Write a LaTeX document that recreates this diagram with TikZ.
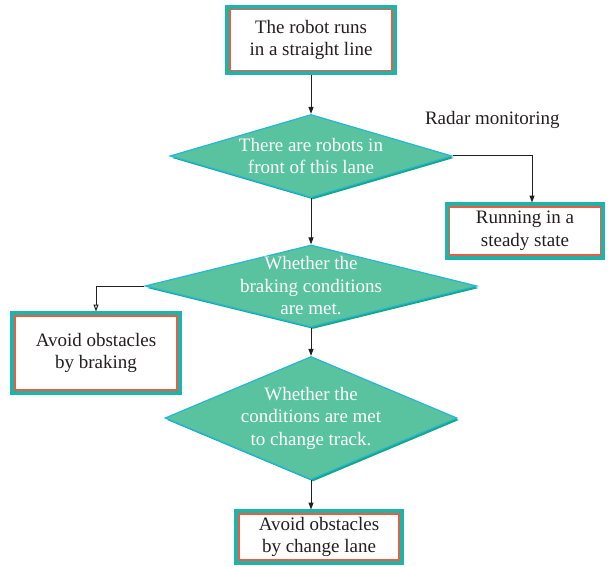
\documentclass[tikz,border=0pt]{standalone}
\usepackage{fontspec}
\setmainfont{Liberation Serif}
\usetikzlibrary{shapes.geometric, positioning, arrows.meta, shadows}

\definecolor{ink}{RGB}{35,31,32}
\definecolor{boxteal}{RGB}{30,180,170}
\definecolor{boxred}{RGB}{236,92,66}
\definecolor{diafill}{RGB}{88,195,158}
\definecolor{diaedge}{RGB}{38,182,214}
\definecolor{diashade}{RGB}{22,168,128}

\begin{document}
\begin{tikzpicture}[node distance=125pt, font=\fontsize{19}{22.5}\selectfont,
    box/.style={rectangle, draw=boxred, line width=1.2pt, fill=white, text=ink, align=center, inner sep=0pt, outer sep=4.5pt, preaction={draw=boxteal, line width=9.5pt}},
    decision/.style={diamond, draw=diaedge, line width=1.2pt, fill=diafill, inner sep=0pt, general shadow={fill=diashade, shadow xshift=2pt, shadow yshift=-2pt}},
    dtext/.style={text=white, align=center},
    line/.style={draw=ink, line width=1pt, -{Triangle[length=7pt, width=5pt]}},
    opentip/.style={-{Triangle[open, length=7pt, width=5pt]}}]
    \useasboundingbox (0,0) rectangle (608pt,-567pt);  % Page frame
    % Nodes
    \node (start) [box, minimum width=162pt, minimum height=61pt] at (311pt,-40pt) {The robot runs\\in a straight line};  % First box
    \node (ahead) [below of=start, yshift=9pt, decision, minimum width=282pt, minimum height=83pt, label={[dtext]center:There are robots in\\front of this lane}] {};  % First check
    \node (steady) [right of=ahead, xshift=89pt, yshift=-75pt, box, minimum width=151pt, minimum height=48pt] {Running in a\\steady state};  % No robot ahead
    \node (brakecheck) [below of=ahead, yshift=-5pt, decision, minimum width=332pt, minimum height=82pt, label={[dtext]center:Whether the\\braking conditions\\are met.}] {};  % Second check
    \node (braking) [left of=brakecheck, xshift=-90pt, yshift=-67pt, box, minimum width=162pt, minimum height=74pt] {Avoid obstacles\\by braking};  % Brake
    \node (trackcheck) [below of=brakecheck, yshift=-7pt, decision, minimum width=292pt, minimum height=123pt, label={[dtext]center:Whether the\\conditions are met\\to change track.}] {};  % Third check
    \node (changelane) [below of=trackcheck, yshift=6pt, xshift=8pt, box, minimum width=160pt, minimum height=46pt] {Avoid obstacles\\by change lane};  % Last box

    % Arrows
    \draw [line] (start) -- (ahead);  % Box to first check
    \draw [line] (ahead.east) -| node[pos=0.25, above=27pt, inner sep=0pt, text=ink] {Radar monitoring} ([xshift=7pt]steady.north);  % Side branch
    \draw [line] (ahead) -- (brakecheck);  % First to second check
    \draw [line, opentip] (brakecheck.west) -| (braking.north);  % Left branch
    \draw [line] (brakecheck) -- (trackcheck);  % Second to third check
    \draw [line] (trackcheck.south) -- (trackcheck.south |- changelane.north);  % Down to last box
\end{tikzpicture}
\end{document}
